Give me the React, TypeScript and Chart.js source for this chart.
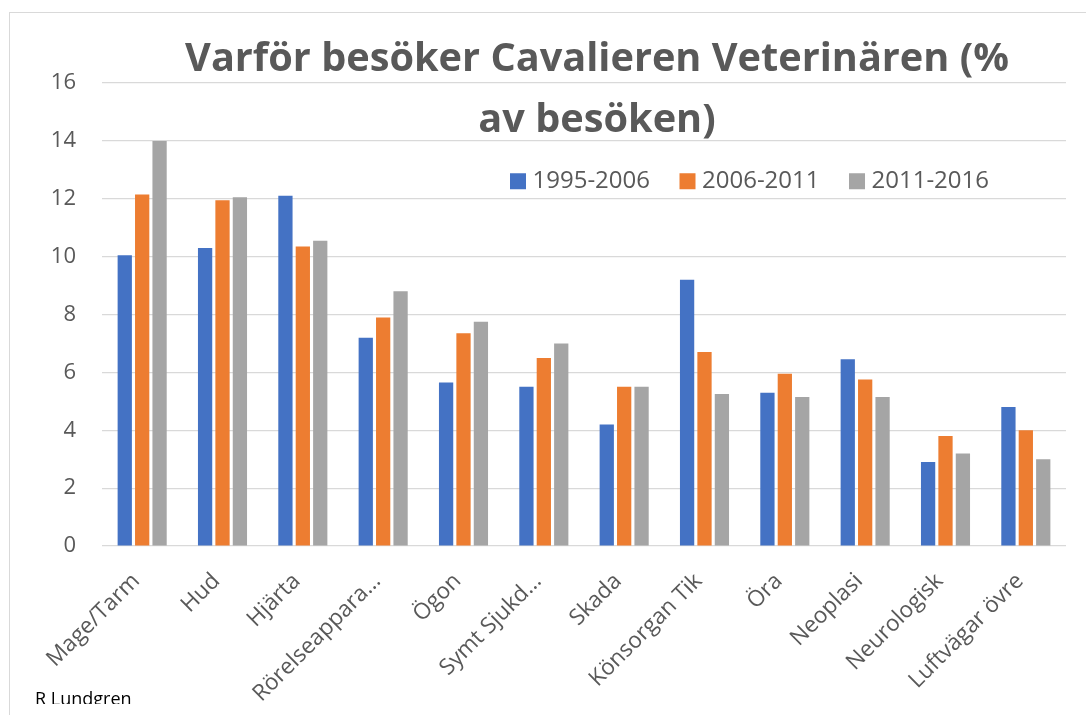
import React, { useEffect, useRef } from "react";
import { Chart, registerables } from "chart.js";

Chart.register(...registerables);

const categories = [
  "Mage/Tarm",
  "Hud",
  "Hjärta",
  "Rörelseappara…",
  "Ögon",
  "Symt Sjukd…",
  "Skada",
  "Könsorgan Tik",
  "Öra",
  "Neoplasi",
  "Neurologisk",
  "Luftvägar övre",
];
const seriesNames = ["1995-2006", "2006-2011", "2011-2016"];
const values1995 = [10.05, 10.3, 12.1, 7.2, 5.65, 5.5, 4.2, 9.2, 5.3, 6.45, 2.9, 4.8];
const values2006 = [12.15, 11.95, 10.35, 7.9, 7.35, 6.5, 5.5, 6.7, 5.95, 5.75, 3.8, 4.0];
const values2011 = [14.0, 12.05, 10.55, 8.8, 7.75, 7.0, 5.5, 5.25, 5.15, 5.15, 3.2, 3.0];
const colors = ["#4472C4", "#ED7D31", "#A5A5A5"];
const titleLines = ["Varför besöker Cavalieren Veterinären (%", "av besöken)"];
const yMin = 0;
const yMax = 16;
const yStep = 2;

const TEXT = "#595959";
const FONT = "'Open Sans', sans-serif";
const TITLE_SIZE = 39.7;
const TITLE_LH = 61;
const TITLE_CX = 597;
const TITLE_TOP = 29;
const LEG_PAD = 35;
const LEG_X = 515.5;
const LEG_Y = 169.3;

const placer = {
  id: "placer",
  beforeLayout(chart: any) {
    const l = chart.legend;
    if (l && !l.__patched) {
      const orig = l.fit.bind(l);
      l.fit = function () {
        orig();
        this.__realHeight = this.height;
        this.height = 0;
      };
      l.__patched = true;
    }
  },
  afterLayout(chart: any) {
    const t = chart.titleBlock;
    if (t) {
      t.left = TITLE_CX - 520;
      t.right = TITLE_CX + 520;
      t.width = 1040;
      t.top = TITLE_TOP;
      t.bottom = TITLE_TOP + TITLE_LH * 2;
    }
    const l = chart.legend;
    if (l) {
      const h = l.__realHeight || 100;
      l.left = LEG_X - LEG_PAD;
      l.right = 1086;
      l.width = l.right - l.left;
      l.top = LEG_Y - LEG_PAD;
      l.height = h;
      l.bottom = l.top + h;
    }
  },
  afterUpdate(chart: any) {
    const l = chart.legend;
    if (l && l.adjustHitBoxes) l.adjustHitBoxes();
  },
};

export default function App() {
  const ref = useRef<HTMLCanvasElement | null>(null);

  useEffect(() => {
    if (!ref.current) return;
    Chart.defaults.font.family = FONT;
    const data = [values1995, values2006, values2011];
    const chart = new Chart(ref.current, {
      type: "bar",
      data: {
        labels: categories,
        datasets: seriesNames.map((name, i) => ({
          label: name,
          data: data[i],
          backgroundColor: colors[i],
          borderWidth: 0,
          categoryPercentage: 0.65,
          barPercentage: 0.82,
        })),
      },
      options: {
        animation: false,
        responsive: false,
        maintainAspectRatio: false,
        layout: { padding: { left: 40, right: 20, top: 83, bottom: 0 } },
        plugins: {
          title: {
            display: true,
            position: "bottom",
            text: titleLines,
            color: TEXT,
            font: { family: FONT, size: TITLE_SIZE, weight: "bold", lineHeight: TITLE_LH / TITLE_SIZE },
            padding: { top: 0, bottom: -(TITLE_LH * 2 + 1) },
          },
          legend: {
            display: true,
            position: "top",
            align: "start",
            labels: {
              color: TEXT,
              font: { family: FONT, size: 24 },
              usePointStyle: true,
              pointStyle: "rect",
              boxWidth: 5,
              boxHeight: 16,
              padding: LEG_PAD,
            },
          },
          tooltip: { enabled: false },
        },
        scales: {
          x: {
            grid: { display: false, drawTicks: false },
            border: { display: false },
            ticks: {
              color: TEXT,
              font: { family: FONT, size: 22.5 },
              minRotation: 45,
              maxRotation: 45,
              autoSkip: false,
              padding: 22,
              labelOffset: -6,
            },
            afterFit: (scale: any) => {
              scale.height = 169;
            },
          },
          y: {
            min: yMin,
            max: yMax,
            ticks: {
              stepSize: yStep,
              color: TEXT,
              font: { family: FONT, size: 22 },
              padding: 26,
            },
            grid: { color: "#D9D9D9", lineWidth: 1.2, drawTicks: false },
            border: { display: false },
            afterFit: (scale: any) => {
              scale.width = 62;
            },
          },
        },
      },
      plugins: [placer],
    } as any);
    return () => chart.destroy();
  }, []);

  return (
    <div
      style={{
        position: "fixed",
        left: 0,
        top: 0,
        width: 1086,
        height: 715,
        background: "#fff",
        overflow: "hidden",
      }}
    >
      <div
        style={{
          position: "absolute",
          left: 9,
          top: 12,
          width: 1200,
          height: 800,
          border: "1px solid #D9D9D9",
        }}
      />
      <canvas
        ref={ref}
        width={1086}
        height={715}
        style={{ position: "absolute", left: 0, top: 0, width: 1086, height: 715 }}
      />
      <div
        style={{
          position: "absolute",
          left: 35,
          top: 689,
          height: 15,
          overflow: "hidden",
          fontFamily: FONT,
          fontSize: 18,
          lineHeight: "18px",
          color: "#000",
          whiteSpace: "nowrap",
        }}
      >
        R Lundgren
      </div>
    </div>
  );
}
